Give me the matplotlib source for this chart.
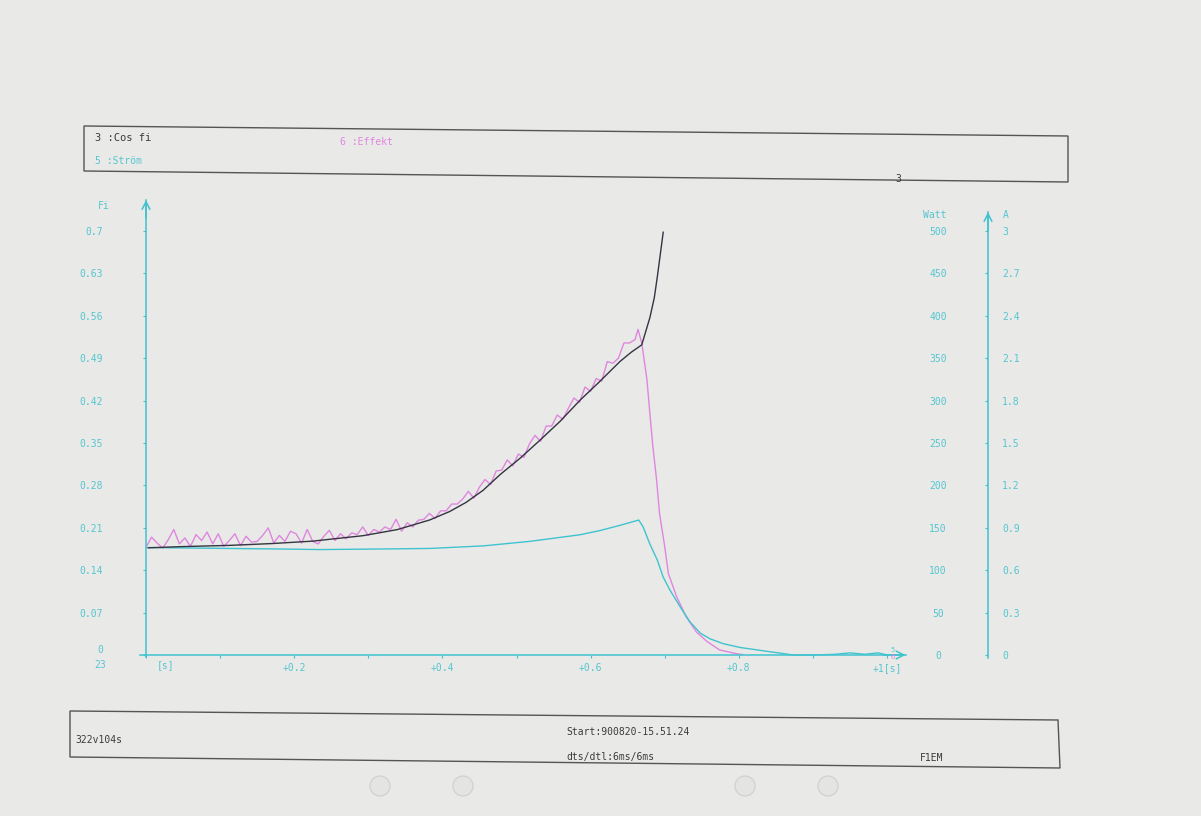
import numpy as np
import matplotlib
matplotlib.use("Agg")
import matplotlib.pyplot as plt
from matplotlib.patches import Polygon, Ellipse

# ---------------- data ----------------
# Cos fi (channel 3, left "Fi" scale)
cos_t = [0.003, 0.05, 0.113, 0.17, 0.225, 0.293, 0.339, 0.383, 0.410, 0.432,
         0.455, 0.478, 0.505, 0.532, 0.559, 0.586, 0.611, 0.640, 0.655, 0.669,
         0.680, 0.686, 0.690, 0.698]
cos_fi = [0.177, 0.179, 0.181, 0.184, 0.188, 0.197, 0.207, 0.223, 0.237, 0.252,
          0.272, 0.298, 0.325, 0.355, 0.386, 0.421, 0.450, 0.485, 0.500, 0.512,
          0.557, 0.590, 0.624, 0.698]

# Effekt (channel 6, Watt) - noisy part sampled every 7.5 ms
eff_dt = 0.0075
eff_noisy_w = [127, 139, 132, 126, 136, 148, 131, 138, 128, 142,
               135, 145, 131, 143, 128, 135, 143, 129, 140, 133,
               134, 141, 150, 132, 141, 134, 146, 143, 132, 148,
               134, 131, 140, 147, 135, 143, 137, 144, 142, 151,
               141, 148, 145, 151, 148, 160, 146, 156, 151, 159,
               160, 167, 161, 170, 170, 178, 178, 184, 193, 185,
               198, 207, 201, 217, 218, 230, 223, 237, 233, 249,
               259, 252, 270, 270, 283, 278, 291, 303, 298, 316,
               311, 326, 323, 346, 344, 350, 368, 368, 372]
eff_tail_t = [0.664, 0.669, 0.676, 0.680, 0.684, 0.689, 0.693, 0.700, 0.705,
              0.716, 0.729, 0.743, 0.757, 0.774, 0.797, 0.805]
eff_tail_w = [384, 368, 325, 285, 246, 207, 167, 128, 96,
              69, 45, 27, 16, 6, 1.5, 0.5]

# Ström (channel 5, Ampere)
cur_t = [0.003, 0.06, 0.127, 0.18, 0.235, 0.316, 0.383, 0.455, 0.518, 0.586,
         0.613, 0.640, 0.665, 0.671, 0.680, 0.690, 0.698, 0.707, 0.721, 0.734,
         0.748, 0.761, 0.779, 0.802, 0.838, 0.860, 0.873, 0.90, 0.93, 0.95,
         0.97, 0.988, 1.0]
cur_a = [0.760, 0.757, 0.753, 0.750, 0.746, 0.750, 0.754, 0.772, 0.804, 0.851,
         0.881, 0.918, 0.955, 0.905, 0.785, 0.672, 0.551, 0.460, 0.340, 0.235,
         0.155, 0.115, 0.080, 0.053, 0.026, 0.010, 0.0, 0.0, 0.005, 0.015,
         0.005, 0.015, 0.0]

x_ticks = [0.0, 0.2, 0.4, 0.6, 0.8, 1.0]
x_labels = ["", "+0.2", "+0.4", "+0.6", "+0.8", "+1[s]"]
x_minor = [0.1, 0.3, 0.5, 0.7, 0.9]
fi_ticks = [0, 0.07, 0.14, 0.21, 0.28, 0.35, 0.42, 0.49, 0.56, 0.63, 0.7]
fi_labels = ["0", "0.07", "0.14", "0.21", "0.28", "0.35", "0.42", "0.49",
             "0.56", "0.63", "0.7"]
w_ticks = [0, 50, 100, 150, 200, 250, 300, 350, 400, 450, 500]
w_labels = [str(v) for v in w_ticks]
a_ticks = [0, 0.3, 0.6, 0.9, 1.2, 1.5, 1.8, 2.1, 2.4, 2.7, 3.0]
a_labels = ["0", "0.3", "0.6", "0.9", "1.2", "1.5", "1.8", "2.1", "2.4", "2.7", "3"]

# ---------------- style ----------------
BG = "#e9e9e7"
CYAN = "#3fc3cf"
CYAN_T = "#55c6d0"
MAG = "#df86df"
DARK = "#343442"
BOX = "#555555"
FONT = "DejaVu Sans Mono"
plt.rcParams["font.family"] = [FONT]

W, H = 1201, 816
fig = plt.figure(figsize=(W / 100, H / 100), dpi=100)
fig.patch.set_facecolor(BG)

X0, XS = 146.0, 741.0      # px of t=0, px per second
Y0, YS = 655.0, 605.7      # px of Fi=0, px per Fi unit
xlim = (-0.008, 1.025)
ylim_fi = (-0.004, 0.7512)

left_px = X0 + XS * xlim[0]
right_px = X0 + XS * xlim[1]
bot_py = Y0 - YS * ylim_fi[0]
top_py = Y0 - YS * ylim_fi[1]
rect = [left_px / W, 1 - bot_py / H, (right_px - left_px) / W, (bot_py - top_py) / H]


def axfrac(px):
    return (px - left_px) / (right_px - left_px)


def fxy(px, py):
    return (px / W, 1 - py / H)


ax_w = fig.add_axes(rect)
ax_a = fig.add_axes(rect)
ax = fig.add_axes(rect)
for a, z in ((ax_w, 1), (ax_a, 2), (ax, 3)):
    a.set_zorder(z)
    a.patch.set_visible(False)
    a.set_xlim(*xlim)
    for s in a.spines.values():
        s.set_visible(False)

scale_w = 500 / 0.7
scale_a = 3.0 / 0.7
ax.set_ylim(*ylim_fi)
ax_w.set_ylim(ylim_fi[0] * scale_w, ylim_fi[1] * scale_w)
ax_a.set_ylim(ylim_fi[0] * scale_a, ylim_fi[1] * scale_a)

# curves
eff_t = list(np.arange(len(eff_noisy_w)) * eff_dt) + eff_tail_t
eff_w = eff_noisy_w + eff_tail_w
ax_w.plot(eff_t, eff_w, color=MAG, lw=1.0)
ax_a.plot(cur_t, cur_a, color=CYAN, lw=1.0)
ax.plot(cos_t, cos_fi, color=DARK, lw=1.0)

# main axes: left & bottom spines
for side in ("left", "bottom"):
    ax.spines[side].set_visible(True)
    ax.spines[side].set_color(CYAN)
    ax.spines[side].set_linewidth(1.1)
    ax.spines[side].set_position(("data", 0))

ax.set_xticks(x_ticks)
ax.set_xticklabels(x_labels)
ax.set_xticks(x_minor, minor=True)
ax.tick_params(axis="x", which="both", direction="out", length=2.5, width=0.8,
               colors=CYAN, labelcolor=CYAN_T, labelsize=7, pad=3.5)
ax.set_yticks(fi_ticks)
ax.set_yticklabels(fi_labels)
ax.tick_params(axis="y", direction="out", length=2.5, width=0.8, colors=CYAN,
               labelcolor=CYAN_T, labelsize=7, pad=28.5)
# lift the "0" label a little, as in the reference (leaves room for "23")
ax.get_yticklabels()[0].set_verticalalignment("bottom")

for a in (ax_w, ax_a):
    a.xaxis.set_visible(False)

# Ampere axis
ax_a.yaxis.tick_right()
ax_a.spines["right"].set_visible(True)
ax_a.spines["right"].set_color(CYAN)
ax_a.spines["right"].set_linewidth(1.1)
ax_a.spines["right"].set_position(("axes", axfrac(988)))
ax_a.spines["right"].set_bounds(-0.02, 3.134)
ax_a.set_yticks(a_ticks)
ax_a.set_yticklabels(a_labels)
ax_a.tick_params(axis="y", direction="in", length=2.5, width=0.8, colors=CYAN,
                 labelcolor=CYAN_T, labelsize=7, pad=10)

# Watt labels (centered column, no line)
ax_w.yaxis.tick_right()
ax_w.spines["right"].set_position(("axes", axfrac(938)))
ax_w.set_yticks(w_ticks)
ax_w.set_yticklabels(w_labels, ha="center")
ax_w.tick_params(axis="y", length=0, pad=0, labelcolor=CYAN_T, labelsize=7)

# arrows
arr = dict(arrowstyle="->,head_length=0.55,head_width=0.28", color=CYAN, lw=1.1,
           shrinkA=0, shrinkB=0)
ax.annotate("", xy=(0, ylim_fi[1]), xytext=(0, ylim_fi[1] - 0.03),
            arrowprops=arr, annotation_clip=False)
ax.annotate("", xy=(xlim[1], 0), xytext=(xlim[1] - 0.03, 0),
            arrowprops=arr, annotation_clip=False)
ax_a.annotate("", xy=(axfrac(988), 3.134), xycoords=("axes fraction", "data"),
              xytext=(axfrac(988), 3.0), textcoords=("axes fraction", "data"),
              arrowprops=arr, annotation_clip=False)

# axis texts
fig.text(*fxy(110, 206), "Fi", color=CYAN_T, fontsize=7, ha="right", va="center")
fig.text(*fxy(100, 665), "23", color=CYAN_T, fontsize=7, ha="center", va="center")
fig.text(*fxy(166, 665), "[s]", color=CYAN_T, fontsize=7, ha="center", va="center")
fig.text(*fxy(935, 215), "Watt", color=CYAN_T, fontsize=7, ha="center", va="center")
fig.text(*fxy(1003, 215), "A", color=CYAN_T, fontsize=7, ha="left", va="center")
fig.text(*fxy(893, 650), "5", color=CYAN_T, fontsize=5, ha="center", va="center")
fig.text(*fxy(893, 657), "6", color=MAG, fontsize=5, ha="center", va="center")

# header box
hdr = [fxy(84, 126), fxy(1068, 136), fxy(1068, 182), fxy(84, 171)]
fig.add_artist(Polygon(hdr, closed=True, fill=False, edgecolor=BOX, lw=1.0,
                       transform=fig.transFigure))
fig.text(*fxy(95, 138), "3 :Cos fi", color="#3c3c3c", fontsize=7.5, va="center")
fig.text(*fxy(95, 161), "5 :Ström", color=CYAN_T, fontsize=7, va="center")
fig.text(*fxy(340, 142), "6 :Effekt", color=MAG, fontsize=7, va="center")
fig.text(*fxy(898, 179), "3", color="#3c3c3c", fontsize=7, ha="center", va="center")

# footer box
ftr = [fxy(70, 711), fxy(1058, 720), fxy(1060, 768), fxy(70, 757)]
fig.add_artist(Polygon(ftr, closed=True, fill=False, edgecolor=BOX, lw=1.0,
                       transform=fig.transFigure))
fig.text(*fxy(75, 740), "322v104s", color="#3c3c3c", fontsize=7, va="center")
fig.text(*fxy(566, 732), "Start:900820-15.51.24", color="#3c3c3c", fontsize=7, va="center")
fig.text(*fxy(566, 757), "dts/dtl:6ms/6ms", color="#3c3c3c", fontsize=7, va="center")
fig.text(*fxy(920, 758), "F1EM", color="#3c3c3c", fontsize=7, va="center")

# punch holes
for cx in (380, 463, 745, 828):
    fig.add_artist(Ellipse(fxy(cx, 786), 20 / W, 20 / H, transform=fig.transFigure,
                           facecolor="#e4e4e3", edgecolor="#cfcfcf", lw=0.8))

fig.savefig("out.png", dpi=100, facecolor=BG)
